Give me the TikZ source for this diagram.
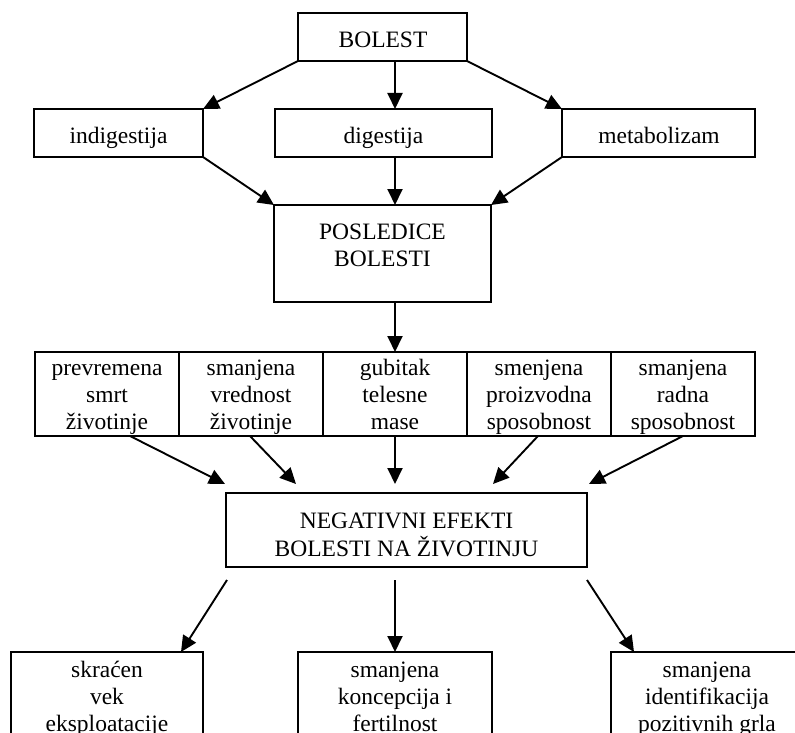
\documentclass[tikz,border=0pt]{standalone}
\usepackage{fontspec}
\setmainfont{Liberation Serif}
\usetikzlibrary{arrows.meta,calc}
\newcommand\diagfs{\fontsize{23.5}{27}\selectfont}
\newcommand\mlines[1]{\begin{tabular}[t]{@{}c@{}}#1\end{tabular}}
\begin{document}
\begin{tikzpicture}[x=1pt,y=-1pt,
  box/.style={draw, line width=1.9pt, inner sep=0pt, outer sep=0pt},
  txt/.style={inner sep=0pt, anchor=base, font=\diagfs},
  arr/.style={line width=1.9pt, -{Triangle[length=16pt,width=15pt]}}]
\useasboundingbox (0,0) rectangle (795,733);
\clip (0,0) rectangle (795,733);
% boxes
\node[box, minimum width=169pt, minimum height=48pt] (bolest) at (382.5,37) {};
\node[box, minimum width=169pt, minimum height=48pt] (indig) at (118.5,133) {};
\node[box, minimum width=217pt, minimum height=48pt] (dig) at (383.5,133) {};
\node[box, minimum width=193pt, minimum height=48pt] (metab) at (658.5,133) {};
\node[box, minimum width=217pt, minimum height=97pt] (posl) at (382.5,253.5) {};
\node[box, minimum width=144pt, minimum height=84pt] (c1) at (107,394) {};
\node[box, minimum width=144pt, minimum height=84pt] (c2) at (251,394) {};
\node[box, minimum width=144pt, minimum height=84pt] (c3) at (395,394) {};
\node[box, minimum width=144pt, minimum height=84pt] (c4) at (539,394) {};
\node[box, minimum width=144pt, minimum height=84pt] (c5) at (683,394) {};
\node[box, minimum width=361pt, minimum height=74pt] (neg) at (406.5,530) {};
\node[box, minimum width=192pt, minimum height=108pt] (b1) at (107,706) {};
\node[box, minimum width=194pt, minimum height=108pt] (b2) at (395,706) {};
\node[box, minimum width=192pt, minimum height=108pt] (b3) at (707,706) {};
% texts
\node[txt] (bolestT) at (383,47.5) {BOLEST};
\node[txt] (indigT) at (118.5,143) {indigestija};
\node[txt] (digT) at (383.5,143) {digestija};
\node[txt] (metabT) at (659,143) {metabolizam};
\node[txt] (poslT) at (382.5,239) {\mlines{POSLEDICE\\BOLESTI}};
\node[txt] (c1T) at (107,375) {\mlines{prevremena\\smrt\\životinje}};
\node[txt] (c2T) at (251,375) {\mlines{smanjena\\vrednost\\životinje}};
\node[txt] (c3T) at (395,375) {\mlines{gubitak\\telesne\\mase}};
\node[txt] (c4T) at (539,375) {\mlines{smenjena\\proizvodna\\sposobnost}};
\node[txt] (c5T) at (683,375) {\mlines{smanjena\\radna\\sposobnost}};
\node[txt] (negT) at (406.5,528) {\mlines{NEGATIVNI EFEKTI\\BOLESTI NA ŽIVOTINJU}};
\node[txt] (b1T) at (107,677) {\mlines{skraćen\\vek\\eksploatacije}};
\node[txt] (b2T) at (395,677) {\mlines{smanjena\\koncepcija i\\fertilnost}};
\node[txt] (b3T) at (707,677) {\mlines{smanjena\\identifikacija\\pozitivnih grla}};
% free ends
\coordinate (t1) at (225,484);
\coordinate (t2) at (296,484);
\coordinate (t3) at (395,484);
\coordinate (t4) at (493,484);
\coordinate (t5) at (589,484);
\coordinate (s1) at (227,580);
\coordinate (s2) at (395,580);
\coordinate (s3) at (587,580);
% connectors
\draw[arr] (bolest.south west) -- (indig.north east);
\draw[arr] (bolest.south -| c3.center) -- (dig.north -| c3.center);
\draw[arr] (bolest.south east) -- (metab.north west);
\draw[arr] (indig.south east) -- (posl.north west);
\draw[arr] (dig.south -| c3.center) -- (posl.north -| c3.center);
\draw[arr] (metab.south west) -- (posl.north east);
\draw[arr] (posl.south -| c3.center) -- (c3.north);
\draw[arr] ($(c1.south)+(23,0)$) -- (t1);
\draw[arr] ($(c2.south)+(-1,0)$) -- (t2);
\draw[arr] (c3.south) -- (t3);
\draw[arr] ($(c4.south)+(-1,0)$) -- (t4);
\draw[arr] (c5.south) -- (t5);
\draw[arr] (s1) -- ($(b1.north)+(74,0)$);
\draw[arr] (s2) -- (b2.north);
\draw[arr] (s3) -- ($(b3.north)+(-73,0)$);
\end{tikzpicture}
\end{document}
